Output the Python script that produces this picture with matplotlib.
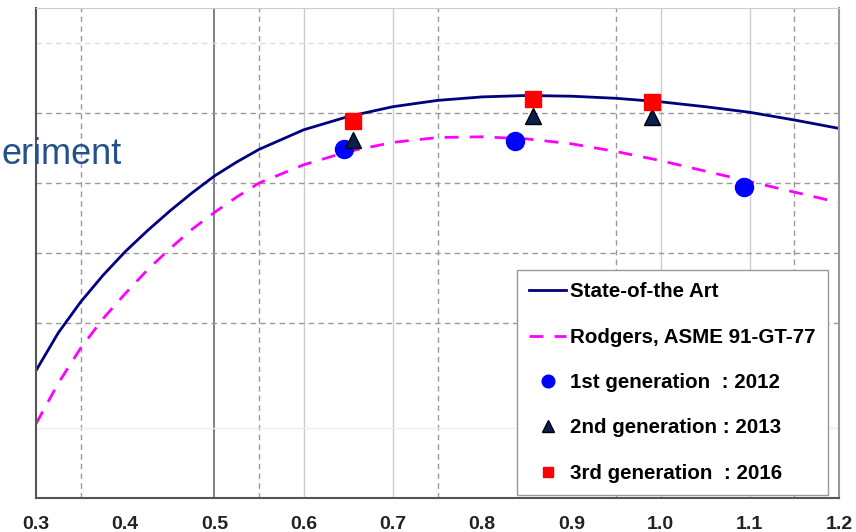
import matplotlib.pyplot as plt

plt.rcParams['font.family'] = ['Liberation Sans', 'DejaVu Sans']

# curves
x_curve = [0.300, 0.325, 0.350, 0.375, 0.400, 0.425, 0.450, 0.475, 0.500, 0.525,
           0.550, 0.600, 0.650, 0.700, 0.750, 0.800, 0.850, 0.900, 0.950, 1.000,
           1.050, 1.100, 1.150, 1.200]
state_of_art = [0.566, 0.593, 0.615, 0.634, 0.651, 0.666, 0.680, 0.693, 0.705, 0.715,
                0.724, 0.738, 0.7475, 0.7545, 0.759, 0.7615, 0.7625, 0.762, 0.7605, 0.758,
                0.7545, 0.7505, 0.745, 0.739]
rodgers = [0.528, 0.557, 0.582, 0.603, 0.621, 0.638, 0.653, 0.667, 0.679, 0.690,
           0.700, 0.713, 0.7225, 0.729, 0.7325, 0.733, 0.7315, 0.728, 0.7225, 0.716,
           0.7085, 0.701, 0.6935, 0.686]

# test points
gen1_x = [0.645, 0.837, 1.093]
gen1_y = [0.724, 0.730, 0.697]
gen2_x = [0.655, 0.857, 0.990]
gen2_y = [0.731, 0.748, 0.747]
gen3_x = [0.655, 0.857, 0.990]
gen3_y = [0.744, 0.760, 0.758]

xticks = [0.3, 0.4, 0.5, 0.6, 0.7, 0.8, 0.9, 1.0, 1.1, 1.2]

fig = plt.figure(figsize=(8.56, 5.32), dpi=100)
ax = fig.add_axes([36/856, 34/532, 803/856, 490/532])

# odd grid of the original slide
for gx in [0.35, 0.55, 0.75, 0.95, 1.15]:
    ax.axvline(gx, color='#999999', lw=1, ls=(0, (4, 3)), zorder=0)
for gx in [0.6, 0.7, 1.0, 1.1]:
    ax.axvline(gx, color='#cccccc', lw=1, zorder=0)
ax.axvline(0.5, color='#777777', lw=1.3, zorder=0)
for gy in [0.60, 0.65, 0.70, 0.75]:
    ax.axhline(gy, color='#999999', lw=1, ls=(0, (4, 3)), zorder=0)
ax.axhline(0.80, color='#dddddd', lw=1, ls=(0, (4, 3)), zorder=0)
ax.axhline(0.525, color='#eeeeee', lw=1, zorder=0)

ax.plot(x_curve, state_of_art, color='#000080', lw=2, label='State-of-the Art')
ax.plot(x_curve, rodgers, color='#FF00FF', lw=2, ls=(0, (5, 4)), label='Rodgers, ASME 91-GT-77')
ax.plot(gen1_x, gen1_y, 'o', color='#0000FF', ms=13, ls='none', label='1st generation  : 2012')
ax.plot(gen2_x, gen2_y, '^', color='#0A2050', mec='black', ms=12, ls='none', label='2nd generation : 2013')
ax.plot(gen3_x, gen3_y, 's', color='#FF0000', ms=11, ls='none', label='3rd generation  : 2016')

ax.set_xlim(0.3, 1.2)
ax.set_ylim(0.475, 0.825)
ax.set_xticks(xticks)
ax.set_xticklabels(['%.1f' % t for t in xticks], fontweight='bold', fontsize=14, color='#222222')
ax.set_yticks([])
ax.tick_params(axis='x', length=0, pad=13)

ax.spines['left'].set_color('#555555')
ax.spines['left'].set_linewidth(1.5)
ax.spines['bottom'].set_color('#555555')
ax.spines['bottom'].set_linewidth(1.5)
ax.spines['top'].set_color('#cccccc')
ax.spines['right'].set_color('#999999')
ax.spines['right'].set_linewidth(1.5)

leg = ax.legend(loc='upper left', bbox_to_anchor=(0.599, 0.465), borderaxespad=0,
                prop={'weight': 'bold', 'size': 14.8},
                markerscale=0.7, handlelength=1.8, handletextpad=0.2, labelspacing=1.28,
                borderpad=0.6, fancybox=False, framealpha=1, edgecolor='#999999')
leg.get_frame().set_linewidth(1)

fig.text(0.002, 1 - 155/532, 'eriment', color='#25508C', fontsize=26,
         ha='left', va='center')

fig.savefig('out.png', dpi=100)
